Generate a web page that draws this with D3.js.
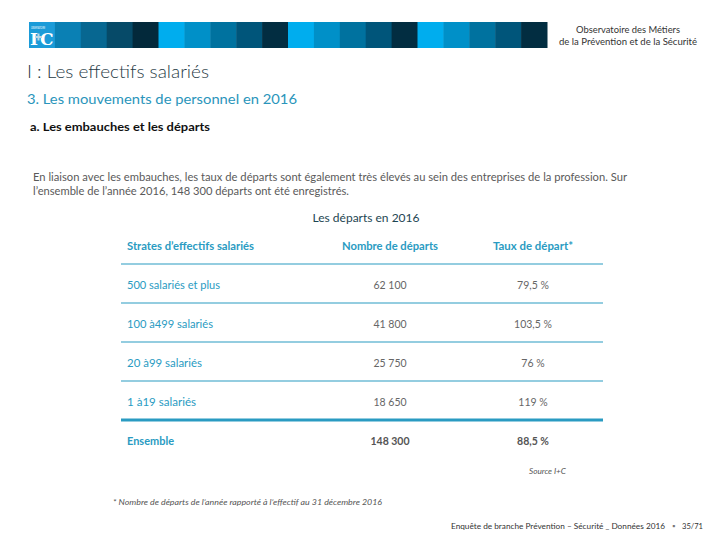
<!DOCTYPE html>
<html><head><meta charset="utf-8">
<script src="https://cdn.jsdelivr.net/npm/d3@7"></script>
<style>
html,body{margin:0;padding:0;background:#fff;}
svg{display:block;font-family:Lato,"Open Sans",sans-serif;}
</style></head>
<body>
<script>
// ---- data ----
const categories = ["500 salariés et plus", "100 à499 salariés", "20 à99 salariés", "1 à19 salariés"];
const departs = [62100, 41800, 25750, 18650];
const tauxDepart = [79.5, 103.5, 76, 119];
const totalLabel = "Ensemble";
const totalDeparts = 148300;
const totalTaux = 88.5;
const columnHeaders = ["Strates d’effectifs salariés", "Nombre de départs", "Taux de départ*"];
const bandColorsFirst = ["#1b9bd8", "#0a80b4", "#076791", "#064a68", "#03293b"];
const bandColors = ["#00adee", "#0090c8", "#00729f", "#00557a", "#022d41"];

const W = 720, H = 540;
const svg = d3.select("body").append("svg").attr("width", W).attr("height", H);

const fr = d3.formatLocale({decimal: ",", thousands: " ", grouping: [3], currency: ["", " €"]});
const fmtN = fr.format(",d");
const fmtP = fr.format(",.1~f");

function fit(sel, w) {
  sel.attr("textLength", w).attr("lengthAdjust", "spacingAndGlyphs");
  return sel;
}
function txt(x, y, s, size, color, opts = {}) {
  const t = svg.append("text").attr("x", x).attr("y", y).text(s)
    .attr("font-size", size).attr("fill", color)
    .attr("font-weight", opts.weight || 400)
    .attr("font-style", opts.style || "normal")
    .attr("text-anchor", opts.anchor || "start");
  if (opts.w) fit(t, opts.w);
  return t;
}

// ---- header band ----
const segIdx = d3.range(20);
const xSeg = d3.scaleBand().domain(segIdx).range([29, 547]);
svg.append("g").selectAll("rect").data(segIdx).join("rect")
  .attr("x", d => xSeg(d)).attr("y", 22)
  .attr("width", xSeg.bandwidth() + 0.5).attr("height", 26)
  .attr("fill", d => d < 5 ? bandColorsFirst[d % 5] : bandColors[d % 5]);
// logo
txt(31, 28.5, "OBSERVATOIRE", 3, "#ffffff", {w: 14});
txt(30, 45, "I", 17, "#ffffff", {weight: 700}).attr("font-family", "DejaVu Serif");
txt(40, 45, "C", 17, "#ffffff", {weight: 700}).attr("font-family", "DejaVu Serif");
svg.append("rect").attr("x", 35).attr("y", 36).attr("width", 7).attr("height", 2).attr("fill", "#b9d7e6");
svg.append("rect").attr("x", 37.5).attr("y", 33.5).attr("width", 2).attr("height", 7).attr("fill", "#b9d7e6");

txt(628, 33, "Observatoire des Métiers", 9, "#333", {anchor: "middle", w: 104});
txt(628, 45, "de la Prévention et de la Sécurité", 9, "#333", {anchor: "middle", w: 138});

// ---- titles ----
txt(27, 78, "I : Les effectifs salariés", 18, "#1f3a45", {weight: 300, w: 182});
txt(27, 104, "3. Les mouvements de personnel en 2016", 14, "#2a95bb", {weight: 400, w: 270});
txt(30, 131, "a. Les embauches et les départs", 11.5, "#111", {weight: 700, w: 180});

txt(33, 181, "En liaison avec les embauches, les taux de départs sont également très élevés au sein des entreprises de la profession. Sur", 10.5, "#5a5a5a", {w: 594});
txt(33, 195, "l’ensemble de l’année 2016, 148 300 départs ont été enregistrés.", 10.5, "#5a5a5a", {w: 316});

txt(366, 222, "Les départs en 2016", 11, "#1d4652", {anchor: "middle", w: 107});

// ---- table ----
const rowKeys = ["header", ...categories, totalLabel];
const y = d3.scaleBand().domain(rowKeys).range([225, 459]);
const colX = d3.scaleOrdinal().domain(["label", "n", "t"]).range([127, 390, 533]);
const lineX = [121, 603];
const teal = "#2a9bc2";

const labelW = {"500 salariés et plus": 93, "100 à499 salariés": 86, "20 à99 salariés": 75, "1 à19 salariés": 69, "Ensemble": 47};

// header
txt(colX("label"), y("header") + 25, columnHeaders[0], 10.5, teal, {weight: 700, w: 127});
txt(colX("n"), y("header") + 25, columnHeaders[1], 10.5, teal, {weight: 700, anchor: "middle", w: 96});
txt(colX("t"), y("header") + 25, columnHeaders[2], 10.5, teal, {weight: 700, anchor: "middle", w: 80});

const rows = categories.map((c, i) => ({c, n: departs[i], t: tauxDepart[i]}));
rows.forEach(r => {
  const by = y(r.c) + 25;
  txt(colX("label"), by, r.c, 10.5, teal, {w: labelW[r.c]});
  txt(colX("n"), by, fmtN(r.n), 10.5, "#666", {anchor: "middle"});
  txt(colX("t"), by, fmtP(r.t) + " %", 10.5, "#666", {anchor: "middle"});
});
// total row
const ty = y(totalLabel) + 25;
txt(colX("label"), ty, totalLabel, 10.5, teal, {weight: 700, w: labelW[totalLabel]});
txt(colX("n"), ty, fmtN(totalDeparts), 10.5, "#555", {weight: 700, anchor: "middle"});
txt(colX("t"), ty, fmtP(totalTaux) + " %", 10.5, "#555", {weight: 700, anchor: "middle"});

// lines
const lineRows = rowKeys.slice(0, 5);
svg.append("g").selectAll("line").data(lineRows).join("line")
  .attr("x1", lineX[0]).attr("x2", lineX[1])
  .attr("y1", d => y(d) + y.bandwidth()).attr("y2", d => y(d) + y.bandwidth())
  .attr("stroke", teal)
  .attr("stroke-width", (d, i) => i === lineRows.length - 1 ? 3 : 1.2);

// ---- notes ----
txt(529, 474, "Source I+C", 7, "#555", {style: "italic", w: 37});
txt(113, 505, "* Nombre de départs de l’année rapporté à l’effectif au 31 décembre 2016", 7.5, "#555", {style: "italic", w: 269});
txt(451, 529, "Enquête de branche Prévention – Sécurité _ Données 2016", 8, "#333", {w: 214});
txt(672, 529, "▪", 8, "#777");
txt(682, 529, "35/71", 8, "#333", {w: 21});
</script>
</body></html>
